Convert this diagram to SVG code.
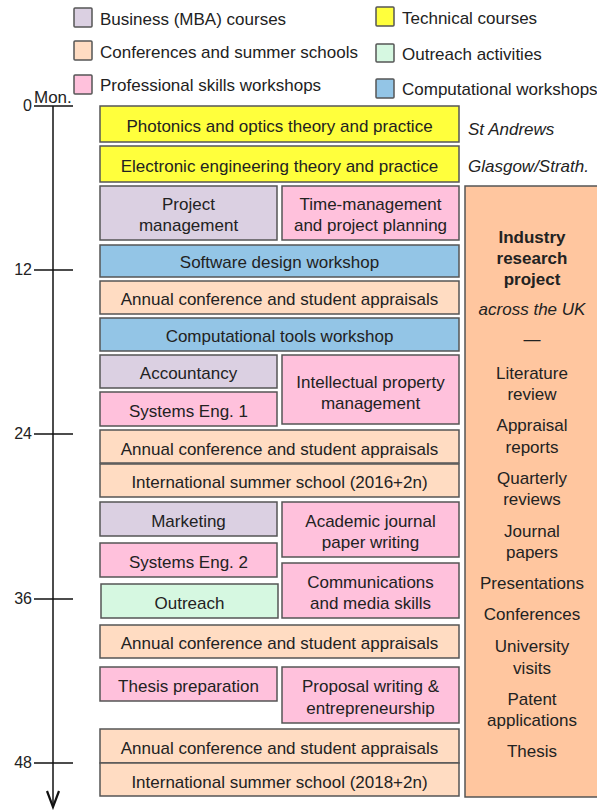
<svg xmlns="http://www.w3.org/2000/svg" width="597" height="810" viewBox="0 0 597 810">
  <style>
    text { font-family: "Liberation Sans", Arial, sans-serif; font-size: 17px; fill: #222; }
    .c { text-anchor: middle; }
    .it { font-style: italic; }
    .b { font-weight: bold; }
    .ax { font-size: 16px; text-anchor: end; }
    rect { stroke: #555; stroke-width: 1.5; }
    .tech { fill: #ffff3c; }
    .mba { fill: #dbd0e2; }
    .conf { fill: #ffdcc2; }
    .prof { fill: #ffc1dc; }
    .out { fill: #d6f8e1; }
    .comp { fill: #93c5e6; }
    .ind { fill: #ffc69f; }
    .axis { stroke: #111; stroke-width: 1.5; fill: none; }
  </style>

  <!-- legend -->
  <g id="legend">
    <rect class="mba" x="74" y="8" width="18" height="19" rx="1"/>
    <text x="100" y="25">Business (MBA) courses</text>
    <rect class="conf" x="74" y="41" width="18" height="19" rx="1"/>
    <text x="100" y="58">Conferences and summer schools</text>
    <rect class="prof" x="74" y="75" width="18" height="19" rx="1"/>
    <text x="100" y="91">Professional skills workshops</text>
    <rect class="tech" x="376" y="7" width="18" height="19" rx="1"/>
    <text x="402" y="24">Technical courses</text>
    <rect class="out" x="376" y="44" width="18" height="18" rx="1"/>
    <text x="402" y="60">Outreach activities</text>
    <rect class="comp" x="376" y="79" width="18" height="19" rx="1"/>
    <text x="402" y="95">Computational workshops</text>
  </g>

  <!-- time axis -->
  <g id="axis">
    <line class="axis" x1="53" y1="106" x2="53" y2="806"/>
    <polyline class="axis" points="47,791 53,807 59,791" style="stroke-width:2.2"/>
    <line class="axis" x1="34" y1="106" x2="73" y2="106"/>
    <line class="axis" x1="34" y1="270" x2="73" y2="270"/>
    <line class="axis" x1="34" y1="434" x2="73" y2="434"/>
    <line class="axis" x1="34" y1="599" x2="73" y2="599"/>
    <line class="axis" x1="34" y1="763" x2="73" y2="763"/>
    <text x="34" y="103">Mon.</text>
    <text class="ax" x="32" y="111">0</text>
    <text class="ax" x="32" y="275">12</text>
    <text class="ax" x="32" y="439">24</text>
    <text class="ax" x="32" y="604">36</text>
    <text class="ax" x="32" y="768">48</text>
  </g>

  <!-- courses and events -->
  <g id="photonics"><rect class="tech" x="100" y="106" width="359" height="36"/><text class="c" x="279.5" y="132">Photonics and optics theory and practice</text></g>
  <g id="electronic"><rect class="tech" x="100" y="146" width="359" height="36"/><text class="c" x="279.5" y="172">Electronic engineering theory and practice</text></g>
  <text id="st-andrews" class="it" x="468" y="135">St Andrews</text>
  <text id="glasgow" class="it" x="468" y="172">Glasgow/Strath.</text>

  <g id="project-mgmt"><rect class="mba" x="100" y="186" width="177" height="54"/><text class="c" x="188.5" y="210">Project</text><text class="c" x="188.5" y="231">management</text></g>
  <g id="time-mgmt"><rect class="prof" x="282" y="186" width="177" height="54"/><text class="c" x="370.5" y="210">Time-management</text><text class="c" x="370.5" y="231">and project planning</text></g>

  <g id="software"><rect class="comp" x="100" y="245" width="359" height="32"/><text class="c" x="279.5" y="268">Software design workshop</text></g>
  <g id="conf1"><rect class="conf" x="100" y="281" width="359" height="33"/><text class="c" x="279.5" y="305">Annual conference and student appraisals</text></g>
  <g id="comptools"><rect class="comp" x="100" y="318" width="359" height="33"/><text class="c" x="279.5" y="342">Computational tools workshop</text></g>

  <g id="accountancy"><rect class="mba" x="100" y="355" width="177" height="33"/><text class="c" x="188.5" y="379">Accountancy</text></g>
  <g id="syseng1"><rect class="prof" x="100" y="392" width="177" height="34"/><text class="c" x="188.5" y="417">Systems Eng. 1</text></g>
  <g id="ip-mgmt"><rect class="prof" x="282" y="355" width="177" height="69"/><text class="c" x="370.5" y="388">Intellectual property</text><text class="c" x="370.5" y="409">management</text></g>

  <g id="conf2"><rect class="conf" x="100" y="430" width="359" height="33"/><text class="c" x="279.5" y="455">Annual conference and student appraisals</text></g>
  <g id="summer1"><rect class="conf" x="100" y="464" width="359" height="33"/><text class="c" x="279.5" y="488">International summer school (2016+2n)</text></g>

  <g id="marketing"><rect class="mba" x="100" y="502" width="177" height="34"/><text class="c" x="188.5" y="527">Marketing</text></g>
  <g id="journal-writing"><rect class="prof" x="282" y="502" width="177" height="55"/><text class="c" x="370.5" y="527">Academic journal</text><text class="c" x="370.5" y="548">paper writing</text></g>
  <g id="syseng2"><rect class="prof" x="100" y="543" width="177" height="34"/><text class="c" x="188.5" y="568">Systems Eng. 2</text></g>
  <g id="comms"><rect class="prof" x="282" y="563" width="177" height="55"/><text class="c" x="370.5" y="588">Communications</text><text class="c" x="370.5" y="609">and media skills</text></g>
  <g id="outreach"><rect class="out" x="101" y="584" width="177" height="34"/><text class="c" x="189.5" y="609">Outreach</text></g>

  <g id="conf3"><rect class="conf" x="100" y="625" width="359" height="33"/><text class="c" x="279.5" y="649">Annual conference and student appraisals</text></g>

  <g id="thesis-prep"><rect class="prof" x="100" y="667" width="177" height="34"/><text class="c" x="188.5" y="692">Thesis preparation</text></g>
  <g id="proposal"><rect class="prof" x="282" y="667" width="177" height="56"/><text class="c" x="370.5" y="692">Proposal writing &amp;</text><text class="c" x="370.5" y="714">entrepreneurship</text></g>

  <g id="conf4"><rect class="conf" x="100" y="729" width="359" height="34"/><text class="c" x="279.5" y="754">Annual conference and student appraisals</text></g>
  <g id="summer2"><rect class="conf" x="100" y="763" width="359" height="33"/><text class="c" x="279.5" y="788">International summer school (2018+2n)</text></g>

  <!-- industry research project column -->
  <g id="industry">
    <rect class="ind" x="465" y="186" width="140" height="611"/>
    <text class="c b" x="532" y="243">Industry</text>
    <text class="c b" x="532" y="264">research</text>
    <text class="c b" x="532" y="285">project</text>
    <text class="c it" x="532" y="315">across the UK</text>
    <text class="c" x="532" y="345">—</text>
    <text class="c" x="532" y="379">Literature</text>
    <text class="c" x="532" y="400">review</text>
    <text class="c" x="532" y="431">Appraisal</text>
    <text class="c" x="532" y="453">reports</text>
    <text class="c" x="532" y="484">Quarterly</text>
    <text class="c" x="532" y="505">reviews</text>
    <text class="c" x="532" y="537">Journal</text>
    <text class="c" x="532" y="558">papers</text>
    <text class="c" x="532" y="589">Presentations</text>
    <text class="c" x="532" y="620">Conferences</text>
    <text class="c" x="532" y="652">University</text>
    <text class="c" x="532" y="674">visits</text>
    <text class="c" x="532" y="705">Patent</text>
    <text class="c" x="532" y="726">applications</text>
    <text class="c" x="532" y="757">Thesis</text>
  </g>
</svg>
